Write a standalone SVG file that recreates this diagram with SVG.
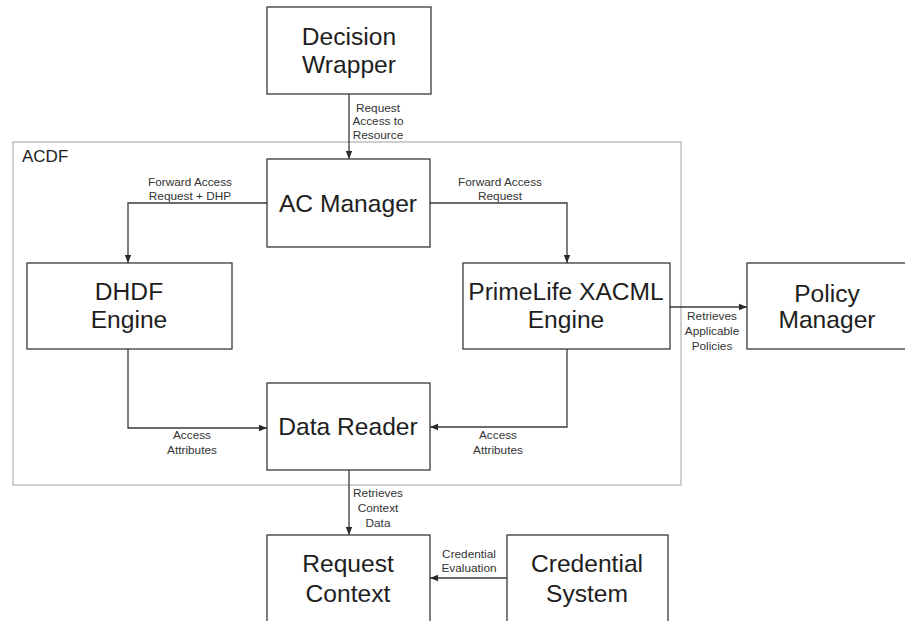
<svg xmlns="http://www.w3.org/2000/svg" width="905" height="621" viewBox="0 0 905 621">
<style>
.box{fill:#fff;stroke:#3a3a3a;stroke-width:1.3}
.t{font-family:"Liberation Sans",Arial,sans-serif;font-size:24.6px;fill:#1e1e1e;text-anchor:middle}
.l{font-family:"Liberation Sans",Arial,sans-serif;font-size:11.8px;fill:#333;text-anchor:middle}
.c{fill:none;stroke:#3a3a3a;stroke-width:1.3}
</style>
<defs>
<marker id="ah" viewBox="0 0 10 10" refX="10" refY="5" markerWidth="8" markerHeight="8" markerUnits="userSpaceOnUse" orient="auto">
<path d="M0,1 L10,5 L0,9 Z" fill="#2a2a2a"/>
</marker>
</defs>
<rect width="905" height="621" fill="#fff"/>
<g id="acdf">
<rect x="13" y="142" width="668" height="343" fill="none" stroke="#c4c4c4" stroke-width="1.6"/>
<text x="22" y="162" font-family="Liberation Sans, Arial, sans-serif" font-size="17" fill="#1e1e1e">ACDF</text>
</g>
<g id="decision-wrapper">
<rect class="box" x="267" y="7" width="164" height="87"/>
<text class="t" x="349" y="45">Decision</text>
<text class="t" x="349" y="73">Wrapper</text>
</g>
<g id="ac-manager">
<rect class="box" x="267" y="159" width="163" height="88"/>
<text class="t" x="348" y="212">AC Manager</text>
</g>
<g id="dhdf-engine">
<rect class="box" x="27" y="263" width="205" height="86"/>
<text class="t" x="129" y="300">DHDF</text>
<text class="t" x="129" y="328">Engine</text>
</g>
<g id="primelife-engine">
<rect class="box" x="463" y="263" width="207" height="86"/>
<text class="t" x="566" y="300">PrimeLife XACML</text>
<text class="t" x="566" y="328">Engine</text>
</g>
<g id="policy-manager">
<rect class="box" x="747" y="263" width="170" height="86"/>
<text class="t" x="827" y="302">Policy</text>
<text class="t" x="827" y="328">Manager</text>
</g>
<g id="data-reader">
<rect class="box" x="267" y="383" width="163" height="87"/>
<text class="t" x="348" y="435">Data Reader</text>
</g>
<g id="request-context">
<rect class="box" x="267" y="535" width="163" height="100"/>
<text class="t" x="348" y="572">Request</text>
<text class="t" x="348" y="602">Context</text>
</g>
<g id="credential-system">
<rect class="box" x="507" y="535" width="161" height="100"/>
<text class="t" x="587" y="572">Credential</text>
<text class="t" x="587" y="602">System</text>
</g>
<g id="connectors">
<path class="c" d="M349,94 V159" marker-end="url(#ah)"/>
<text class="l" x="378" y="112">Request</text>
<text class="l" x="378" y="125">Access to</text>
<text class="l" x="378" y="139">Resource</text>
<path class="c" d="M267,203 H128 V263" marker-end="url(#ah)"/>
<text class="l" x="190" y="186">Forward Access</text>
<text class="l" x="190" y="200">Request + DHP</text>
<path class="c" d="M430,203 H567 V263" marker-end="url(#ah)"/>
<text class="l" x="500" y="186">Forward Access</text>
<text class="l" x="500" y="200">Request</text>
<path class="c" d="M670,307 H747" marker-end="url(#ah)"/>
<text class="l" x="712" y="320">Retrieves</text>
<text class="l" x="712" y="335">Applicable</text>
<text class="l" x="712" y="350">Policies</text>
<path class="c" d="M128,349 V428 H267" marker-end="url(#ah)"/>
<text class="l" x="192" y="439">Access</text>
<text class="l" x="192" y="454">Attributes</text>
<path class="c" d="M567,349 V427 H430" marker-end="url(#ah)"/>
<text class="l" x="498" y="439">Access</text>
<text class="l" x="498" y="454">Attributes</text>
<path class="c" d="M349,470 V535" marker-end="url(#ah)"/>
<text class="l" x="378" y="497">Retrieves</text>
<text class="l" x="378" y="512">Context</text>
<text class="l" x="378" y="527">Data</text>
<path class="c" d="M507,578 H430" marker-end="url(#ah)"/>
<text class="l" x="469" y="558">Credential</text>
<text class="l" x="469" y="572">Evaluation</text>
</g>
</svg>
